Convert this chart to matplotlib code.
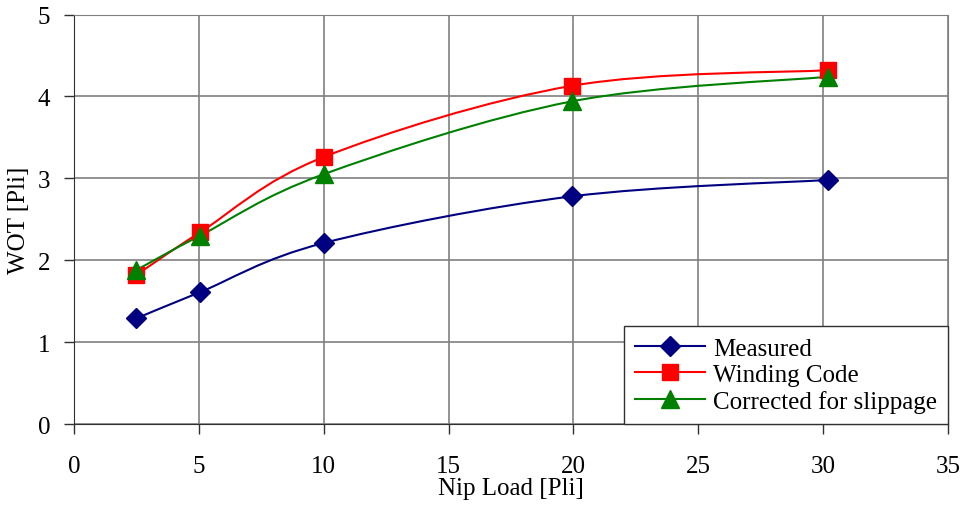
import matplotlib.pyplot as plt
import numpy as np
from matplotlib.path import Path
from matplotlib.patches import PathPatch
from matplotlib.lines import Line2D

# data
nip_load = [2.5, 5.05, 10, 19.95, 30.2]
measured = [1.29, 1.61, 2.21, 2.78, 2.98]
winding_code = [1.82, 2.34, 3.26, 4.13, 4.32]
corrected = [1.88, 2.30, 3.05, 3.94, 4.24]

plt.rcParams['font.family'] = ['Liberation Serif', 'DejaVu Serif']


def smooth_path(x, y, t=1.0 / 6):
    # Excel-like smoothed line: cubic bezier through the points
    pts = np.column_stack([x, y])
    n = len(pts)
    verts = [pts[0]]
    codes = [Path.MOVETO]
    for i in range(n - 1):
        p0 = pts[i - 1] if i > 0 else pts[i]
        p1 = pts[i]
        p2 = pts[i + 1]
        p3 = pts[i + 2] if i + 2 < n else pts[i + 1]
        c1 = p1 + (p2 - p0) * t
        c2 = p2 - (p3 - p1) * t
        verts += [c1, c2, p2]
        codes += [Path.CURVE4] * 3
    return Path(verts, codes)


fig = plt.figure(figsize=(9.65, 5.06), dpi=100)
ax = fig.add_axes([74 / 965, 1 - 425 / 506, (948 - 74) / 965, (425 - 15.5) / 506])

series = [
    ('Measured', measured, '#000080', 'D', 10.5),
    ('Winding Code', winding_code, '#ff0000', 's', 11.5),
    ('Corrected for slippage', corrected, '#008000', '^', 12.5),
]

handles = []
for label, vals, col, mk, ms in series:
    ax.add_patch(PathPatch(smooth_path(nip_load, vals), facecolor='none',
                           edgecolor=col, lw=1.5, zorder=3))
    ax.plot(nip_load, vals, ls='none', marker=mk, ms=ms, color=col, zorder=4)
    handles.append(Line2D([], [], color=col, lw=1.5, marker=mk, ms=ms))

ax.set_xlim(0, 35)
ax.set_ylim(0, 5)
ax.set_xticks(range(0, 36, 5))
ax.set_yticks(range(0, 6))
ax.grid(True, color='#808080', lw=1.2)
ax.set_axisbelow(True)
for s in ['top', 'right']:
    ax.spines[s].set_color('#808080')
for s in ['left', 'bottom']:
    ax.spines[s].set_color('#303030')
ax.tick_params(direction='out', length=7, width=1, labelsize=18, color='#303030')
ax.tick_params(axis='x', pad=15)
ax.tick_params(axis='y', pad=10)
ax.set_xlabel('Nip Load [Pli]', fontsize=18, labelpad=0)
ax.set_ylabel('WOT [Pli]', fontsize=18, labelpad=6)

leg = ax.legend(handles, [s[0] for s in series], loc='lower right',
                borderaxespad=0, fontsize=18, fancybox=False, framealpha=1,
                edgecolor='#303030', handlelength=2.8, labelspacing=0.15,
                borderpad=0.45, handletextpad=0.3)
leg.get_frame().set_linewidth(1)

fig.savefig('out.png', dpi=100)
